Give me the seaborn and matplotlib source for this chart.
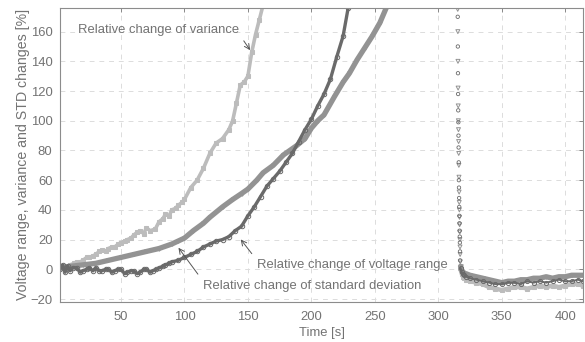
import numpy as np
import pandas as pd
import matplotlib
matplotlib.use('Agg')
import matplotlib.pyplot as plt
import seaborn as sns

# relative change of variance (rising part)
var_t = [2, 5, 8, 10, 13, 15, 18, 20, 23, 25, 28, 30, 33, 35, 38, 40, 43, 45, 48, 50, 53, 55, 58,
         60, 63, 65, 68, 70, 73, 77, 80, 83, 85, 88, 90, 93, 95, 98, 100,
         105, 110, 115, 120, 125, 130, 135, 138, 141, 144, 147, 150, 153, 156, 159, 162]
var_v = [1, 2, 1, 3, 4, 5, 5, 6, 8, 8, 9, 10, 12, 13, 12, 14, 15, 15, 17, 18, 19, 20, 21,
         23, 25, 26, 24, 28, 26, 27, 32, 34, 37, 36, 40, 41, 43, 45, 47,
         55, 60, 68, 78, 85, 88, 94, 100, 112, 124, 126, 130, 146, 158, 168, 178]

# relative change of voltage range (rising part)
rng_t = [2, 10, 20, 30, 40, 50, 60, 70, 80, 90, 95, 100, 107, 115, 120, 130, 138, 145, 150, 157,
         162, 170, 178, 188, 195, 200, 205, 210, 218, 225, 230, 236, 242, 248, 254, 260]
rng_v = [1, 2, 3, 4, 6, 8, 10, 12, 14, 17, 19, 21, 26, 31, 35, 42, 47, 51, 54, 60,
         65, 70, 77, 83, 88, 95, 100, 104, 116, 126, 132, 141, 149, 157, 166, 178]

# relative change of standard deviation (rising part)
std_t = [2, 4, 6, 8, 10, 12, 15, 18, 20, 23, 25, 28, 30, 33, 35, 38, 40, 43, 45, 48, 50, 53, 55, 58,
         60, 63, 65, 68, 70, 73, 75, 78, 80, 83, 85, 88, 90, 95, 100, 105,
         110, 115, 120, 125, 130, 135, 140, 145, 150, 155, 160, 165, 170, 175, 180, 185, 190, 195,
         200, 205, 210, 215, 220, 225, 229]
std_v = [0, 3, -2, 2, -1, 1, 1, -2, -1, 0, 1, -1, 1, -1, -1, 0, 0, -2, -1, 0, 0, -3, -2, -1,
         -1, -3, -2, 0, 0, -2, -1, 0, 1, 2, 3, 4, 5, 6, 8, 10,
         12, 15, 17, 19, 20, 22, 26, 29, 36, 42, 49, 56, 61, 66, 72, 78, 86, 94,
         101, 110, 118, 128, 143, 157, 176]

# fast drop after the event (sparse samples)
drop_t = [315.3, 315.4, 315.5, 315.6, 315.7, 315.8, 315.9, 316.0, 316.1, 316.2, 316.3,
          316.4, 316.5, 316.6, 316.7, 316.8, 316.9, 317.0, 317.1, 317.2, 317.3]
drop_rng = [175, 160, 140, 122, 110, 100, 94, 86, 78, 70, 62, 52, 45, 40, 35, 30, 25, 20, 15, 10, 5]
drop_std = [170, 150, 132, 118, 107, 99, 90, 82, 72, 60, 55, 48, 42, 36, 31, 26, 22, 18, 12, 6, 0]

# settled part
end_t = [317.5, 318.5, 319.5, 320.5, 322, 325, 330, 335, 340, 345, 350, 355, 360, 365, 370, 375,
         380, 385, 390, 395, 400, 405, 410, 414]
end_rng = [2, -1, -2, -3, -3, -4, -5, -6, -7, -8, -9, -8, -8, -7, -7, -6, -6, -5, -6, -5, -5, -4, -4, -4]
end_var = [0, -3, -5, -6, -7, -8, -9, -10, -12, -13, -14, -13, -12, -12, -13, -12, -11, -12, -11, -12,
           -11, -10, -10, -11]
end_std = [1, -2, -3, -4, -5, -6, -7, -8, -9, -10, -10, -9, -9, -10, -8, -9, -8, -9, -8, -7, -8, -8, -7, -8]

c_var = '#bcbcbc'
c_rng = '#939393'
c_std = '#6a6a6a'
txt = '#737373'
fs = 9.4

sns.set_style('white')
plt.rcParams['font.family'] = ['Liberation Sans', 'DejaVu Sans']

fig = plt.figure(figsize=(5.85, 3.42), dpi=100)
ax = fig.add_axes([0.1026, 0.117, 0.894, 0.86])

sns.lineplot(x=var_t, y=var_v, ax=ax, color=c_var, lw=2.6, marker='s', ms=2.5, mec=c_var, sort=False)
sns.lineplot(x=end_t, y=end_var, ax=ax, color=c_var, lw=3.2, marker='s', ms=2.5, mec=c_var, sort=False)

sns.lineplot(x=rng_t, y=rng_v, ax=ax, color=c_rng, lw=3.8, marker='v', ms=2.5, mec=c_rng, sort=False)
sns.lineplot(x=end_t, y=end_rng, ax=ax, color=c_rng, lw=3.8, marker='v', ms=2.5, mec=c_rng, sort=False)
sns.scatterplot(x=drop_t, y=drop_rng, ax=ax, color='none', edgecolor=c_rng, marker='v', s=8, linewidth=0.7)

sns.lineplot(x=std_t, y=std_v, ax=ax, color=c_std, lw=2.4, marker='o', ms=3.2, mfc='none',
             mec=c_std, mew=0.7, sort=False)
sns.lineplot(x=end_t, y=end_std, ax=ax, color=c_std, lw=1.4, marker='o', ms=3, mfc='none',
             mec=c_std, mew=0.7, sort=False)
sns.scatterplot(x=drop_t, y=drop_std, ax=ax, facecolor='none', edgecolor=c_std, marker='o', s=6, linewidth=0.6)

ax.set_xlim(2, 414)
ax.set_ylim(-22, 176)
ax.set_xticks(np.arange(50, 401, 50))
ax.set_yticks(np.arange(-20, 161, 20))
ax.grid(True, ls=(0, (5, 5)), color='#dcdcdc', lw=0.7)
ax.tick_params(direction='in', top=True, right=True, length=3, color='#888888',
               labelcolor=txt, labelsize=fs, width=0.7)
ax.tick_params(axis='x', pad=6.5)
ax.tick_params(axis='y', pad=5.5)
for s in ax.spines.values():
    s.set_color('#8c8c8c')
    s.set_linewidth(0.8)
ax.set_xlabel('Time [s]', color=txt, fontsize=fs, labelpad=3)
ax.set_ylabel('Voltage range, variance and STD changes [%]', color=txt, fontsize=10.2, labelpad=0)

arw = dict(arrowstyle='->', color='#555555', lw=0.7)
ax.annotate('Relative change of variance', xy=(153, 146), xytext=(16, 161), color=txt,
            fontsize=fs, va='center', arrowprops=dict(arw, relpos=(1.0, 0.2)))
ax.annotate('Relative change of voltage range', xy=(143, 21.6), xytext=(157, 3), color=txt,
            fontsize=fs, va='center', arrowprops=dict(arw, relpos=(0.0, 0.9)))
ax.annotate('Relative change of standard deviation', xy=(94, 16), xytext=(114.5, -11), color=txt,
            fontsize=fs, va='center', arrowprops=dict(arw, relpos=(0.0, 0.9)))

fig.savefig('out.png', dpi=100)
